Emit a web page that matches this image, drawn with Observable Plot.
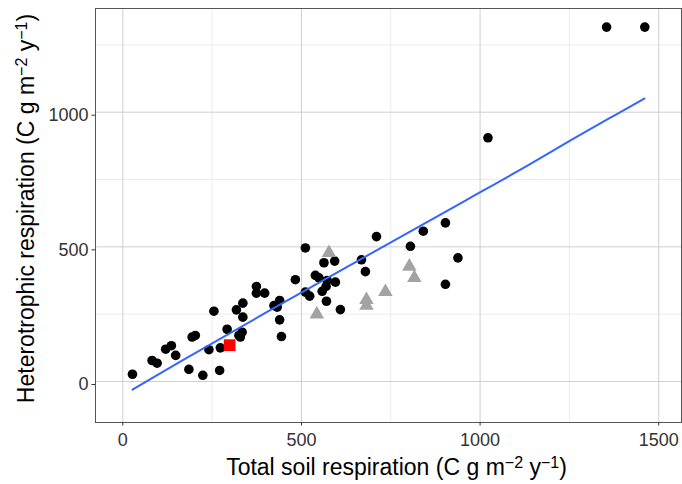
<!DOCTYPE html>
<html>
<head>
<meta charset="utf-8">
<script src="https://cdn.jsdelivr.net/npm/d3@7"></script>
<script src="https://cdn.jsdelivr.net/npm/@observablehq/plot@0.6"></script>
<style>
  html, body { margin: 0; padding: 0; background: #fff; }
  svg { display: block; }
</style>
</head>
<body>
<div id="chart"></div>
<script>
// Black points: total soil respiration (x) vs heterotrophic respiration (y)
const blackX = [27, 82, 96, 120, 136, 148, 185, 194, 203, 224, 241, 255, 271, 273, 292, 318, 336, 336, 334, 325, 329,
  374, 374, 397, 423, 439, 439, 444, 432, 483, 511, 511, 523, 539, 549, 563, 593, 569, 572, 558, 570, 595, 609,
  668, 679, 710, 805, 841, 903, 938, 903, 1022, 1354, 1461];
const blackY = [27, 78, 68, 120, 133, 97, 45, 165, 171, 23, 118, 261, 41, 125, 194, 266, 291, 239, 183, 171, 165,
  353, 328, 328, 282, 301, 229, 167, 276, 378, 496, 332, 317, 394, 385, 441, 447, 353, 375, 335, 298, 369, 267,
  452, 408, 538, 502, 558, 589, 459, 361, 905, 1316, 1316];
// Grey triangles
const triX = [577, 543, 682, 682, 735, 802, 816];
const triY = [478, 250, 303, 282, 333, 427, 385];
// Red square
const sqX = [299];
const sqY = [135];
// Fitted smooth line
const fitX = [27, 162, 441, 623, 959, 1141, 1253, 1384, 1460];
const fitY = [-30, 75, 286, 422, 672, 808, 895, 994, 1051];
// Ticks
const xTicks = [0, 500, 1000, 1500];
const yTicks = [0, 500, 1000];
const xMinor = [250, 750, 1250];
const yMinor = [250, 750, 1250];

const black = blackX.map((x, i) => ({x, y: blackY[i]}));
const tri = triX.map((x, i) => ({x, y: triY[i]}));
const sq = sqX.map((x, i) => ({x, y: sqY[i]}));
const fit = fitX.map((x, i) => ({x, y: fitY[i]}));

const font = "'Liberation Sans', Arial, Helvetica, sans-serif";
const plain = d => String(d);

const chart = Plot.plot({
  width: 682,
  height: 484,
  marginLeft: 95,
  marginRight: 1,
  marginTop: 8,
  marginBottom: 62,
  style: {fontFamily: font, background: "#fff"},
  x: {domain: [-76.4, 1563.7]},
  y: {domain: [-152.2, 1385]},
  marks: [
    Plot.gridX(xMinor, {stroke: "#ececec", strokeOpacity: 1, strokeWidth: 1}),
    Plot.gridY(yMinor, {stroke: "#ececec", strokeOpacity: 1, strokeWidth: 1}),
    Plot.gridX(xTicks, {stroke: "#cfcfcf", strokeOpacity: 1, strokeWidth: 1}),
    Plot.gridY(yTicks, {stroke: "#cfcfcf", strokeOpacity: 1, strokeWidth: 1}),
    Plot.dot(black, {x: "x", y: "y", r: 4.8, fill: "#000", stroke: "none"}),
    Plot.line(fit, {x: "x", y: "y", stroke: "#3366FF", strokeWidth: 2, curve: "monotone-x"}),
    Plot.dot(tri, {x: "x", y: "y", r: 5.4, symbol: "triangle", fill: "#a3a3a3", stroke: "none"}),
    Plot.dot(sq, {x: "x", y: "y", r: 6.6, symbol: "square", fill: "#ff0000", stroke: "none"}),
    Plot.frame({stroke: "#555", strokeWidth: 1}),
    Plot.axisX(xTicks, {tickSize: 3.5, tickPadding: 7, fontSize: 18, fill: "#333", stroke: "#333", tickFormat: plain, label: null}),
    Plot.axisY(yTicks, {tickSize: 3.5, tickPadding: 3.5, fontSize: 18, fill: "#333", stroke: "#333", tickFormat: plain, dy: 3, label: null})
  ]
});

document.getElementById("chart").appendChild(chart);

const svg = d3.select(chart);

function addTitle(g, main1, sup1, main2, sup2, main3) {
  g.append("tspan").text(main1);
  g.append("tspan").attr("font-size", 16).attr("dy", -7).text(sup1);
  g.append("tspan").attr("dy", 7).text(main2);
  g.append("tspan").attr("font-size", 16).attr("dy", -7).text(sup2);
  g.append("tspan").attr("dy", 7).text(main3);
}

const xt = svg.append("text")
  .attr("x", 396.5).attr("y", 474.5)
  .attr("text-anchor", "middle")
  .attr("font-family", font).attr("font-size", 23).attr("fill", "#000");
addTitle(xt, "Total soil respiration (C g m", "\u22122", " y", "\u22121", ")");

const yt = svg.append("text")
  .attr("transform", "translate(34,208.5) rotate(-90)")
  .attr("text-anchor", "middle")
  .attr("font-family", font).attr("font-size", 23).attr("fill", "#000");
addTitle(yt, "Heterotrophic respiration (C g m", "\u22122", " y", "\u22121", ")");
</script>
</body>
</html>
